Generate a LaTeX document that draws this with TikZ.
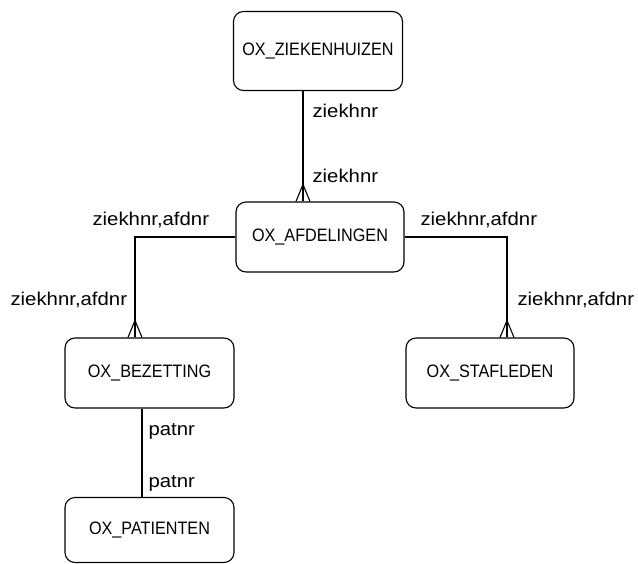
\documentclass[tikz,border=0pt]{standalone}
\usepackage{fontspec}
\setmainfont{Liberation Sans}
\newfontfamily\boxfont[FakeStretch=0.9]{Liberation Sans}
\newfontfamily\keyfont[FakeStretch=1.1]{Liberation Sans}
\newcommand{\crowfoot}[1]{%
  \draw (#1) ++(0,-17) -- ++(-7,17);
  \draw (#1) ++(0,-17) -- ++(0,17);
  \draw (#1) ++(0,-17) -- ++(7,17);}
\begin{document}
\begin{tikzpicture}[x=1pt, y=-1pt, line width=1.1pt]
 \tikzstyle{table} = [draw, rounded corners=10pt, minimum width=169pt, minimum height=70pt, inner sep=0pt, font=\boxfont\fontsize{18}{20}\selectfont];
 \tikzstyle{key} = [anchor=base west, inner sep=0pt, font=\keyfont\fontsize{18.5}{21}\selectfont];
 \useasboundingbox (0,0) rectangle (638,563);
\node [table, minimum height=79pt] (v1) at (318,51) {OX\_ZIEKENHUIZEN};
\node [table, minimum width=168pt] (v2) at (320,237) {OX\_AFDELINGEN};
\node [table] (v3) at (149.5,373) {OX\_BEZETTING};
\node [table, minimum width=168pt] (v4) at (490,373) {OX\_STAFLEDEN};
\node [table, minimum height=65pt] (v5) at (149.5,530) {OX\_PATIENTEN};

% ziekenhuizen - afdelingen
\coordinate (c1) at ([xshift=-17pt]v2.north);
\draw (c1) -- (c1 |- v1.south);
\crowfoot{c1}
\node [key] (k1) at (312,117) {ziekhnr};
\node [key] (k2) at (312,182) {ziekhnr};

% afdelingen - bezetting
\coordinate (c2) at ([xshift=-14.5pt]v3.north);
\draw (v2.west) -| (c2);
\crowfoot{c2}
\node [key] (k3) at (92,225) {ziekhnr,afdnr};
\node [key] (k4) at (10,305) {ziekhnr,afdnr};

% afdelingen - stafleden
\coordinate (c3) at ([xshift=17pt]v4.north);
\draw (v2.east) -| (c3);
\crowfoot{c3}
\node [key] (k5) at (420,225) {ziekhnr,afdnr};
\node [key] (k6) at (517,305) {ziekhnr,afdnr};

% bezetting - patienten
\draw ([xshift=-7.5pt]v3.south) -- ([xshift=-7.5pt]v5.north);
\node [key] (k7) at (148,435) {patnr};
\node [key] (k8) at (148,487) {patnr};

\end{tikzpicture}
\end{document}
